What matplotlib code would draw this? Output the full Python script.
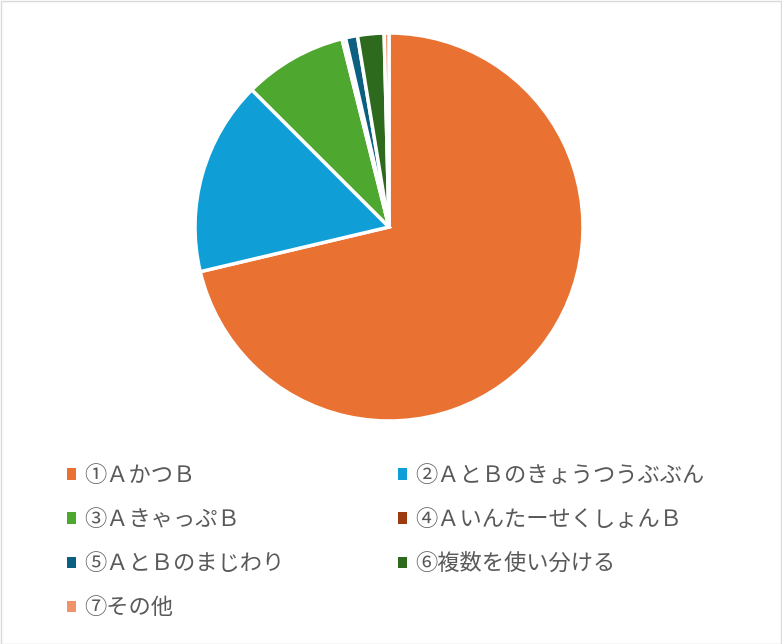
import matplotlib.pyplot as plt
from matplotlib.patches import Rectangle

plt.rcParams['font.family'] = ['Noto Sans CJK JP', 'DejaVu Sans']

labels = ['①ＡかつＢ', '②ＡとＢのきょうつうぶぶん', '③ＡきゃっぷＢ',
          '④ＡいんたーせくしょんＢ', '⑤ＡとＢのまじわり', '⑥複数を使い分ける', '⑦その他']
values = [71.3, 16.2, 8.6, 0.3, 1.0, 2.2, 0.4]
colors = ['#E97132', '#0F9ED5', '#4EA72E', '#9C3A10', '#0B5F80', '#2D6A1E', '#F0926A']

W, H = 782, 644
fig = plt.figure(figsize=(W/100, H/100), dpi=100)

# pie: centre (389,227) px, radius 194 px
cx, cy, r = 389, 227, 194
ax = fig.add_axes([(cx-r)/W, (H-cy-r)/H, 2*r/W, 2*r/H])
wedges, _ = ax.pie(values, colors=colors, startangle=90, counterclock=False,
                   radius=1, wedgeprops=dict(edgecolor='white', linewidth=2.5))
ax.set_xlim(-1, 1)
ax.set_ylim(-1, 1)
ax.axis('off')

# legend, row-major in 2 columns
order = [0, 2, 4, 6, 1, 3, 5]
leg = fig.legend([wedges[i] for i in order], [labels[i] for i in order],
                 ncol=2, loc='upper left', bbox_to_anchor=(67/W, 1-464/H),
                 frameon=False, fontsize=16, borderpad=0, borderaxespad=0,
                 handlelength=0.42, handleheight=0.42, handletextpad=0.35,
                 labelspacing=0.95, columnspacing=5.1)
for t in leg.get_texts():
    t.set_color('#595959')
for h in leg.legend_handles:
    h.set_edgecolor('none')

fig.patches.append(Rectangle((0.5/W, 0.5/H), 1-1.5/W, 1-1.5/H, transform=fig.transFigure,
                             fill=False, edgecolor='#D9D9D9', linewidth=1))

fig.savefig('out.png', dpi=100)
